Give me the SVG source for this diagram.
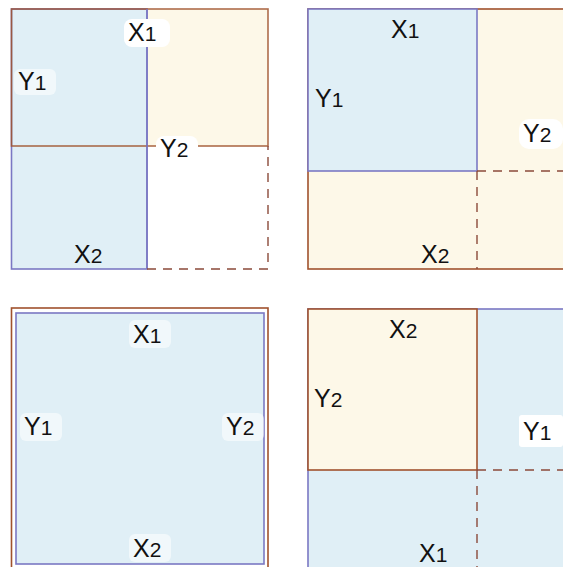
<svg xmlns="http://www.w3.org/2000/svg" width="563" height="567" viewBox="0 0 563 567">
<style>
.bg{fill:#ffffff}
.blue{fill:#e0eff6;stroke:#7b78c4;stroke-width:1.6}
.beige{fill:#fdf8e8;stroke:#a0522d;stroke-width:1.6}
.bline{fill:none;stroke:#a0522d;stroke-width:1.6}
.pline{fill:none;stroke:#7b78c4;stroke-width:1.6}
.dash{fill:none;stroke:#8b4a3a;stroke-width:1.4;stroke-dasharray:9,7}
.lbg{fill:#ffffff}
.glow{fill:#ffffff;opacity:0.55}
text{font-family:"Liberation Sans",Arial,sans-serif;font-size:25px;fill:#111111}
.s{font-size:21px}
</style>
<rect class="bg" x="0" y="0" width="563" height="567"/>

<g id="panel1">
  <rect x="147" y="9" width="121" height="137" style="fill:#fdf8e8"/>
  <rect class="blue" x="11.5" y="9" width="135.5" height="260"/>
  <rect class="bline" x="11.5" y="9" width="256.5" height="137" style="opacity:0.85"/>
  <line class="pline" x1="147" y1="9" x2="147" y2="269"/>
</g>
<g id="panel2">
  <rect class="beige" x="308" y="9" width="270" height="260"/>
  <rect class="blue" x="308" y="9" width="169" height="162"/>
</g>
<g id="panel3">
  <rect class="beige" x="11.5" y="308" width="256.5" height="270" style="fill:#ffffff"/>
  <rect class="blue" x="16" y="313" width="248" height="251"/>
</g>
<g id="panel4">
  <rect class="blue" x="308" y="309" width="270" height="270"/>
  <rect class="beige" x="308" y="309" width="169" height="161"/>
</g>

<g id="connectors">
  <path class="dash" d="M147,269 H268 V146"/>
  <path class="dash" d="M477,171 V269 M477,171 H563"/>
  <path class="dash" d="M477,470 V567 M477,470 H563"/>
</g>

<g id="labels">
  <rect class="lbg" x="124" y="19" width="46" height="28" rx="8"/>
  <text x="128" y="41">X<tspan class="s">1</tspan></text>
  <rect class="glow" x="14" y="69" width="42" height="26" rx="6"/>
  <text x="18" y="90">Y<tspan class="s">1</tspan></text>
  <rect class="lbg" x="156" y="136" width="42" height="26" rx="8"/>
  <text x="160" y="157">Y<tspan class="s">2</tspan></text>
  <text x="74" y="263">X<tspan class="s">2</tspan></text>

  <text x="391" y="38">X<tspan class="s">1</tspan></text>
  <text x="315" y="107">Y<tspan class="s">1</tspan></text>
  <rect class="lbg" x="519" y="119" width="44" height="30" rx="10"/>
  <text x="523" y="142">Y<tspan class="s">2</tspan></text>
  <text x="421" y="263">X<tspan class="s">2</tspan></text>

  <rect class="glow" x="129" y="320" width="42" height="28" rx="6"/>
  <text x="133" y="343">X<tspan class="s">1</tspan></text>
  <rect class="glow" x="20" y="413" width="42" height="28" rx="6"/>
  <text x="24" y="435">Y<tspan class="s">1</tspan></text>
  <rect class="glow" x="222" y="413" width="42" height="28" rx="6"/>
  <text x="226" y="435">Y<tspan class="s">2</tspan></text>
  <rect class="glow" x="129" y="534" width="42" height="28" rx="6"/>
  <text x="133" y="557">X<tspan class="s">2</tspan></text>

  <text x="389" y="338">X<tspan class="s">2</tspan></text>
  <text x="314" y="407">Y<tspan class="s">2</tspan></text>
  <rect class="lbg" x="519" y="415" width="44" height="32" rx="3"/>
  <text x="523" y="440">Y<tspan class="s">1</tspan></text>
  <text x="419" y="562">X<tspan class="s">1</tspan></text>
</g>
</svg>
